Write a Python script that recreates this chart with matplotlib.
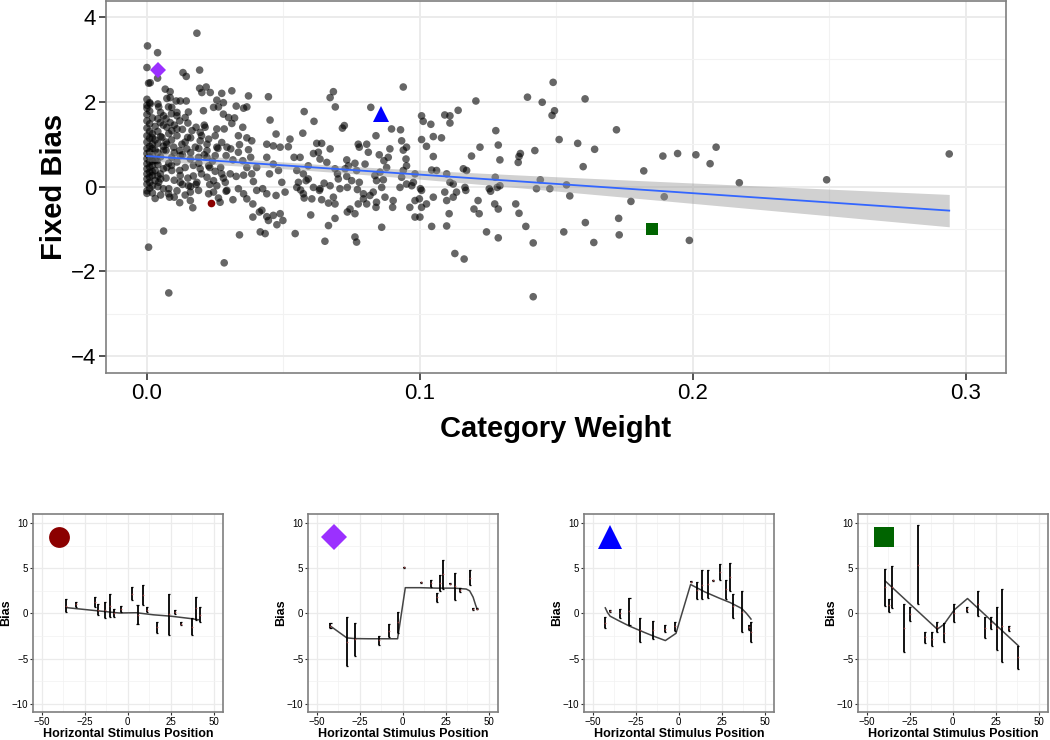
import matplotlib
matplotlib.use("Agg")
import matplotlib.pyplot as plt
import numpy as np

plt.rcParams['font.family'] = ['Liberation Sans', 'DejaVu Sans']

# ---- main scatter: (category weight, fixed bias) ----
pts_column0 = [
    (0.000, 1.85), (0.001, 1.78), (0.000, 1.70), (0.002, 1.62), (0.000, 1.55), (0.001, 1.48),
    (0.003, 1.42), (0.000, 1.38), (0.001, 1.30), (0.002, 1.25), (0.000, 1.20), (0.001, 1.14),
    (0.003, 1.10), (0.000, 1.05), (0.002, 1.00), (0.001, 0.95), (0.000, 0.90), (0.003, 0.86),
    (0.001, 0.82), (0.000, 0.78), (0.002, 0.74), (0.001, 0.70), (0.000, 0.66), (0.003, 0.62),
    (0.001, 0.58), (0.000, 0.54), (0.002, 0.50), (0.001, 0.46), (0.000, 0.42), (0.003, 0.38),
    (0.001, 0.34), (0.000, 0.30), (0.002, 0.26), (0.001, 0.22), (0.000, 0.18), (0.003, 0.14),
    (0.001, 0.10), (0.000, 0.06), (0.002, 0.02), (0.001, -0.04), (0.000, -0.10), (0.002, -0.15),
    (0.004, 1.95), (0.004, 1.60), (0.004, 1.30), (0.004, 1.02), (0.004, 0.80), (0.004, 0.52),
    (0.004, 0.25), (0.004, 0.00), (0.005, 1.75), (0.006, 1.45), (0.005, 1.18), (0.006, 0.95),
    (0.005, 0.70), (0.006, 0.42), (0.005, 0.18), (0.006, -0.05), (0.005, -0.20), (0.001, 1.98),
    (0.000, 1.92), (0.002, 0.90), (0.002, 0.60), (0.002, 0.35), (0.002, 1.15), (0.000, -0.16),
]

pts_dense = [
    (0.007, 1.60), (0.008, 1.25), (0.007, 0.85), (0.008, 0.55), (0.007, 0.20), (0.008, -0.05),
    (0.009, 1.72), (0.010, 1.45), (0.009, 1.10), (0.010, 0.80), (0.009, 0.50), (0.010, 0.15),
    (0.011, -0.10), (0.012, 1.55), (0.011, 1.20), (0.012, 0.85), (0.011, 0.58), (0.012, 0.38),
    (0.013, 0.05), (0.013, 1.35), (0.014, 1.05), (0.013, 0.75), (0.014, 0.45), (0.015, 0.20),
    (0.015, 1.50), (0.016, 1.15), (0.016, 0.80), (0.017, 0.50), (0.017, 0.25), (0.018, 1.40),
    (0.018, 0.05), (0.019, 0.90), (0.019, 0.55), (0.020, 1.20), (0.020, 0.30), (0.021, 0.75),
    (0.022, 1.00), (0.023, 0.45), (0.010, -0.25), (0.014, -0.20), (0.003, -0.28), (0.012, -0.38),
    (0.007, 1.05), (0.016, 0.00), (0.021, 1.45), (0.024, 0.60), (0.026, 0.90), (0.027, 0.45),
    (0.023, 0.05), (0.028, 0.20),
]

pts_left = [
    (0.0183, 3.62), (0.0002, 3.32), (0.0039, 3.16), (0.0000, 2.81), (0.0193, 2.75), (0.0132, 2.69),
    (0.0144, 2.60), (0.0039, 2.56), (0.0006, 2.44), (0.0012, 2.45), (0.0067, 2.30), (0.0085, 2.24),
    (0.0193, 2.32), (0.0217, 2.35), (0.0201, 2.22), (0.0232, 2.22), (0.0274, 2.20), (0.0311, 2.26),
    (0.0000, 2.06), (0.0012, 1.95), (0.0085, 2.10), (0.0122, 2.02), (0.0144, 2.02), (0.0073, 2.08),
    (0.0107, 2.02), (0.0043, 1.88), (0.0079, 1.88), (0.0091, 1.87), (0.0110, 1.75), (0.0152, 1.76),
    (0.0140, 1.63), (0.0110, 1.67), (0.0085, 1.51), (0.0049, 1.51), (0.0073, 1.40), (0.0110, 1.36),
    (0.0165, 1.32), (0.0213, 1.40), (0.0195, 1.28), (0.0256, 1.36), (0.0283, 1.36), (0.0250, 1.20),
    (0.0226, 1.12), (0.0195, 1.08), (0.0177, 0.93), (0.0146, 0.89), (0.0128, 1.00), (0.0098, 0.93),
    (0.0073, 1.00), (0.0061, 0.85), (0.0091, 0.69), (0.0122, 0.73), (0.0159, 0.65), (0.0189, 0.69),
    (0.0220, 0.69), (0.0250, 0.73), (0.0256, 0.93), (0.0293, 0.93), (0.0274, 1.04), (0.0220, 0.85),
    (0.0195, 0.42), (0.0226, 0.49), (0.0250, 0.36), (0.0244, 0.14), (0.0256, 0.02), (0.0287, 0.10),
    (0.0305, 0.30), (0.0274, 0.30), (0.0220, 0.22), (0.0183, 0.10), (0.0152, 0.02), (0.0159, -0.13),
    (0.0189, -0.09), (0.0226, -0.17), (0.0244, -0.13), (0.0268, -0.37), (0.0293, -0.09), (0.0159, -0.33),
    (0.0168, -0.50), (0.0262, -0.27), (0.0122, 0.26), (0.0091, 0.38), (0.0073, 0.45), (0.0049, 0.30),
    (0.0043, 0.10), (0.0079, -0.17), (0.0083, -0.25), (0.0122, 0.10), (0.0037, 0.61), (0.0055, 1.16),
    (0.0091, 1.32), (0.0061, 1.67), (0.0149, 1.16), (0.0207, 1.79), (0.0244, 1.87), (0.0262, 1.88),
    (0.0280, 1.98), (0.0280, 1.71), (0.0311, 1.49), (0.0299, 1.63), (0.0256, 2.04),
]

pts_mid1 = [
    (0.0372, 2.14), (0.0445, 2.12), (0.0354, 1.85), (0.0366, 1.88), (0.0327, 1.90), (0.0321, 1.62),
    (0.0351, 1.40), (0.0335, 1.20), (0.0366, 1.15), (0.0384, 1.08), (0.0339, 0.99), (0.0335, 0.81),
    (0.0372, 0.87), (0.0380, 0.69), (0.0307, 0.89), (0.0290, 0.73), (0.0315, 0.63), (0.0351, 0.61),
    (0.0366, 0.45), (0.0402, 0.45), (0.0384, 0.30), (0.0354, 0.27), (0.0390, 0.12), (0.0424, -0.05),
    (0.0335, -0.05), (0.0354, -0.17), (0.0366, -0.29), (0.0388, -0.41), (0.0315, -0.31), (0.0290, -0.11),
    (0.0327, 0.24), (0.0439, 1.00), (0.0463, 0.96), (0.0488, 0.93), (0.0473, 1.24), (0.0524, 1.12),
    (0.0518, 0.94), (0.0451, 1.57), (0.0439, 0.69), (0.0463, 0.53), (0.0482, 0.38), (0.0449, 0.30),
    (0.0494, 0.10), (0.0506, -0.13), (0.0473, -0.21), (0.0439, -0.17), (0.0402, -0.09), (0.0421, -0.56),
    (0.0439, -0.71), (0.0463, -0.68), (0.0488, -0.64), (0.0498, -0.80), (0.0476, -0.90), (0.0445, -0.80),
    (0.0388, -0.72), (0.0412, -0.60), (0.0415, -1.07), (0.0433, -1.11), (0.0339, -1.14), (0.0283, -1.80),
    (0.0080, -2.51), (0.0061, -1.05), (0.0006, -1.43),
]

pts_mid2 = [
    (0.0576, 1.77), (0.0612, 1.54), (0.0571, 1.26), (0.0622, 1.02), (0.0640, 1.02), (0.0610, 0.78),
    (0.0628, 0.81), (0.0634, 0.65), (0.0671, 0.89), (0.0659, 0.57), (0.0591, 0.49), (0.0561, 0.69),
    (0.0539, 0.69), (0.0549, 0.38), (0.0573, 0.30), (0.0591, 0.18), (0.0583, 0.14), (0.0555, 0.10),
    (0.0549, -0.02), (0.0563, -0.08), (0.0573, -0.17), (0.0610, -0.02), (0.0634, -0.05), (0.0649, 0.08),
    (0.0671, 0.02), (0.0701, 0.18), (0.0732, 0.24), (0.0738, 0.49), (0.0732, 0.63), (0.0726, 0.42),
    (0.0762, 0.55), (0.0774, 1.00), (0.0778, 0.93), (0.0805, 1.00), (0.0811, 0.81), (0.0799, 0.53),
    (0.0768, 0.38), (0.0750, 0.14), (0.0734, -0.02), (0.0707, -0.05), (0.0683, -0.25), (0.0689, -0.41),
    (0.0665, -0.39), (0.0640, -0.31), (0.0632, -0.09), (0.0604, -0.29), (0.0576, -0.27), (0.0543, -1.11),
    (0.0600, -0.67), (0.0665, -0.92), (0.0689, -0.75), (0.0734, -0.60), (0.0744, -0.53), (0.0762, -0.64),
    (0.0774, -0.41), (0.0793, -0.29), (0.0762, -1.19), (0.0768, -1.31), (0.0652, -1.29), (0.0698, 0.30),
    (0.0689, 0.42), (0.0716, 1.38), (0.0723, 1.44), (0.0820, 1.87), (0.0839, 1.20), (0.0683, 2.24),
    (0.0671, 2.10), (0.0690, 1.88),
]

pts_mid3 = [
    (0.0851, 0.75), (0.0868, 0.61), (0.0884, 0.69), (0.0890, 0.89), (0.0878, 0.45), (0.0854, 0.34),
    (0.0835, 0.26), (0.0841, 0.14), (0.0866, 0.16), (0.0860, -0.02), (0.0829, -0.13), (0.0817, -0.21),
    (0.0841, -0.37), (0.0872, -0.25), (0.0902, -0.33), (0.0900, -0.49), (0.0927, -0.02), (0.0951, 0.06),
    (0.0933, 0.22), (0.0939, 0.38), (0.0951, 0.49), (0.0949, 0.65), (0.0939, 0.86), (0.0933, 1.08),
    (0.0896, 1.36), (0.0929, 1.34), (0.0951, 0.93), (0.0970, 0.02), (0.0982, -0.33), (0.0963, -0.49),
    (0.0982, -0.72), (0.1000, -0.72), (0.1006, -0.49), (0.0998, -0.29), (0.1002, -0.05), (0.0982, 0.30),
    (0.0976, 0.10), (0.0860, -0.96), (0.0839, -0.49), (0.0805, -0.41), (0.0793, -0.17), (0.0771, -0.07),
    (0.0778, 0.10), (0.0939, 2.35),
]

pts_right1 = [
    (0.1006, 1.67), (0.1012, 1.54), (0.1040, 1.47), (0.1049, 1.18), (0.1079, 1.15), (0.1006, 1.11),
    (0.1024, 0.95), (0.1049, 0.71), (0.1043, 0.39), (0.1061, 0.38), (0.1098, 0.30), (0.1110, 0.10),
    (0.1122, 0.06), (0.1134, -0.13), (0.1122, -0.25), (0.1091, -0.13), (0.1049, -0.25), (0.1024, -0.41),
    (0.1006, -0.09), (0.1098, -0.33), (0.1107, -0.64), (0.1098, -0.93), (0.1043, -0.94), (0.1159, 0.42),
    (0.1171, 0.38), (0.1165, -0.02), (0.1168, -0.09), (0.1189, 0.72), (0.1220, 0.93), (0.1213, -0.33),
    (0.1198, -0.53), (0.1217, -0.64), (0.1128, -1.58), (0.1162, -1.71), (0.1244, -1.07), (0.1254, -0.05),
    (0.1259, -0.11), (0.1278, 1.32), (0.1287, 0.98), (0.1293, 0.63), (0.1205, 2.02), (0.1140, 1.80),
    (0.1091, 1.69), (0.1110, 1.67), (0.1110, 1.50),
]

pts_right2 = [
    (0.1276, 0.22), (0.1293, 0.02), (0.1283, -0.02), (0.1274, -0.41), (0.1287, -0.53), (0.1287, -1.21),
    (0.1351, -0.41), (0.1363, -0.63), (0.1388, -0.94), (0.1363, 0.71), (0.1360, 0.57), (0.1368, 0.78),
    (0.1421, 0.85), (0.1427, -0.05), (0.1415, -1.33), (0.1415, -2.60), (0.1394, 2.11), (0.1448, 1.99),
    (0.1484, 1.68), (0.1493, 1.79), (0.1488, 2.46), (0.1441, 0.16),
]

pts_far = [
    (0.1605, 2.07), (0.1720, 1.34), (0.1510, 1.11), (0.1578, 1.02), (0.1640, 0.88), (0.1598, 0.47),
    (0.1476, -0.05), (0.1537, 0.04), (0.1549, -0.22), (0.1773, -0.35), (0.1895, -0.24), (0.1606, -0.85),
    (0.1728, -0.75), (0.1527, -1.07), (0.1730, -1.14), (0.1637, -1.32), (0.1987, -1.27), (0.1820, 0.37),
    (0.1890, 0.72), (0.1944, 0.78), (0.2011, 0.75), (0.2063, 0.54), (0.2085, 0.93), (0.2170, 0.09),
    (0.2490, 0.16), (0.2939, 0.77),
]

# linear fit (intercept, slope)
fit_intercept = 0.72
fit_slope = -4.38

# highlighted participants (also shown in the small panels)
hl_weight = [0.0234, 0.0039, 0.0856, 0.1851]
hl_bias = [-0.38, 2.75, 1.71, -0.99]
hl_color = ['#8B0000', '#9B30FF', '#0000FF', '#006400']
hl_marker = ['o', 'D', '^', 's']
hl_main_size = [5.5, 8, 11, 9]

# ---- small panels: stimulus position, error bar low / high, fitted curve ----
p1_pos = [-36.0, -30.4, -18.9, -17.4, -13.1, -10.6, -7.9, -4.2, 2.4, 5.7, 8.8, 11.2, 17.0, 24.2, 27.7, 31.0, 37.2, 39.7, 42.2]
p1_lo = [0.15, 0.7, 0.7, -0.2, -0.55, -0.4, -0.4, 0.15, 1.5, -1.2, 0.9, 0.15, -2.2, -2.4, -0.1, -1.3, -2.4, -0.7, -0.95]
p1_hi = [1.6, 1.3, 1.8, 1.0, 1.3, 2.1, 0.5, 0.8, 2.9, 0.9, 3.2, 0.7, -0.9, 2.2, 0.4, -1.0, -0.55, 1.8, 0.7]
p1_fit_x = [-36, -18, -5, 5, 15, 25, 36, 41.3]
p1_fit_y = [0.65, 0.3, 0.05, 0.08, -0.15, -0.3, -0.55, -0.7]

p2_pos = [-42.1, -32.6, -27.7, -13.6, -8.1, -2.5, 0.8, 10.7, 16.3, 19.8, 21.7, 23.6, 27.7, 30.6, 33.3, 39.0, 41.1, 43.4]
p2_lo = [-1.65, -5.8, -4.7, -3.5, -2.65, -2.2, 5.05, 3.4, 2.9, 1.3, 2.5, 2.75, 3.25, 1.5, 2.35, 3.1, 0.35, 0.45]
p2_hi = [-1.03, -0.44, -1.03, -2.46, -1.2, 0.2, 5.15, 3.5, 3.75, 2.3, 4.3, 5.95, 3.35, 4.5, 2.85, 4.85, 0.65, 0.55]
p2_fit_x = [-42.1, -32.6, -28, -20, -10, -3, 1.5, 10, 20, 30, 37, 39, 41, 42.5, 43.4]
p2_fit_y = [-1.4, -2.7, -2.78, -2.8, -2.8, -2.8, 2.85, 2.85, 2.8, 2.8, 2.7, 2.5, 1.8, 0.9, 0.45]

p3_pos = [-42.8, -40.3, -34.1, -28.7, -22.5, -14.8, -7.8, -2.0, 6.9, 10.7, 13.6, 17.3, 20.2, 23.9, 27.4, 29.9, 31.8, 36.7, 40.9, 42.1]
p3_lo = [-1.6, 0.2, -0.45, -1.3, -3.2, -2.8, -2.1, -1.9, 3.45, 1.6, 1.6, 1.7, 3.6, 3.65, 1.65, 2.5, -0.55, -2.1, -1.8, -3.2]
p3_hi = [-0.44, 0.4, 0.5, 1.75, -0.55, -0.8, -1.3, -0.9, 3.55, 3.5, 4.8, 4.8, 3.7, 5.5, 3.75, 5.6, 2.1, 2.5, -1.3, -1.0]
p3_fit_x = [-42.8, -41.5, -40, -35, -28.7, -20, -14.8, -7.8, -1.6, 6.9, 15, 23.5, 30, 36.7, 39.5, 41, 42.1]
p3_fit_y = [0.62, 0.1, -0.3, -0.8, -1.4, -2.1, -2.5, -3.0, -2.2, 3.2, 2.4, 1.7, 1.2, 0.55, 0.0, -0.35, -0.62]

p4_pos = [-39.4, -37.1, -35.5, -28.4, -25.1, -20.5, -16.3, -12.0, -9.0, -5.1, 0.9, 8.4, 14.5, 18.8, 22.3, 25.9, 28.8, 32.7, 38.1]
p4_lo = [0.8, 0.2, 0.55, -4.3, -0.85, 1.0, -3.3, -3.6, -2.1, -3.2, -1.0, 0.18, -0.3, -2.7, -1.76, -4.0, -5.4, -1.9, -6.1]
p4_hi = [4.96, 1.65, 5.26, 1.0, 0.66, 9.75, -2.0, -2.0, -0.9, -1.1, 1.0, 0.74, 2.5, -0.44, -0.44, 0.74, 2.65, -1.4, -3.57]
p4_fit_x = [-39.4, -9.0, -5.1, 0.9, 8.6, 38.1]
p4_fit_y = [3.6, -1.75, -1.2, 0.4, 1.65, -3.55]

panels = [
    (p1_pos, p1_lo, p1_hi, p1_fit_x, p1_fit_y),
    (p2_pos, p2_lo, p2_hi, p2_fit_x, p2_fit_y),
    (p3_pos, p3_lo, p3_hi, p3_fit_x, p3_fit_y),
    (p4_pos, p4_lo, p4_hi, p4_fit_x, p4_fit_y),
]
panel_marker_pos = (-40.2, 8.5)
panel_marker_size = [15, 13, 17, 14]


def gg_style(ax, tick_size, grid_major, grid_minor):
    ax.set_facecolor('white')
    for s in ax.spines.values():
        s.set_color('#7F7F7F')
        s.set_linewidth(1.2)
    ax.grid(True, which='major', color='#EBEBEB', linewidth=grid_major, zorder=0)
    ax.grid(True, which='minor', color='#F2F2F2', linewidth=grid_minor, zorder=0)
    ax.set_axisbelow(True)
    ax.tick_params(which='major', direction='out', color='#333333', labelsize=tick_size, labelcolor='black')
    ax.tick_params(which='minor', length=0)


all_pts = pts_column0 + pts_dense + pts_left + pts_mid1 + pts_mid2 + pts_mid3 + pts_right1 + pts_right2 + pts_far
weight = np.array([p[0] for p in all_pts])
bias = np.array([p[1] for p in all_pts])

fig = plt.figure(figsize=(10.5, 7.4), dpi=100)

ax = fig.add_axes([106 / 1050, 1 - 373 / 740, 900 / 1050, 372 / 740])
gg_style(ax, 16, 1.4, 0.8)
ax.tick_params(which='major', length=5, width=1.2, pad=2)

ax.scatter(weight, bias, s=30, color='black', alpha=0.6, edgecolors='none', zorder=2)

# confidence band around the fit line
xx = np.linspace(weight.min(), weight.max(), 100)
yy = fit_intercept + fit_slope * xx
resid = bias - (fit_intercept + fit_slope * weight)
n = len(weight)
s_err = np.sqrt(np.sum(resid ** 2) / (n - 2))
se = s_err * np.sqrt(1 / n + (xx - weight.mean()) ** 2 / np.sum((weight - weight.mean()) ** 2))
ax.fill_between(xx, yy - 1.96 * se, yy + 1.96 * se, color='#999999', alpha=0.45, linewidth=0, zorder=3)
ax.plot(xx, yy, color='#3366FF', linewidth=1.3, zorder=4)

for w, b, c, m, ms in zip(hl_weight, hl_bias, hl_color, hl_marker, hl_main_size):
    ax.plot(w, b, marker=m, color=c, markersize=ms, markeredgewidth=0, linestyle='none', zorder=5)

ax.set_xlim(-0.015, 0.3147)
ax.set_ylim(-4.4, 4.38)
ax.set_xticks([0, 0.1, 0.2, 0.3])
ax.set_xticklabels(['0.0', '0.1', '0.2', '0.3'])
ax.set_xticks([0.05, 0.15, 0.25], minor=True)
ax.set_yticks([-4, -2, 0, 2, 4])
ax.set_yticklabels(['\u22124', '\u22122', '0', '2', '4'])
ax.set_yticks([-3, -1, 1, 3], minor=True)
ax.set_xlabel('Category Weight', fontsize=21, fontweight='bold', labelpad=8)
ax.set_ylabel('Fixed Bias', fontsize=21, fontweight='bold', labelpad=2)

panel_left = [33, 308, 584, 858]
for i, (pos, lo, hi, fx, fy) in enumerate(panels):
    pa = fig.add_axes([panel_left[i] / 1050, 1 - 712 / 740, 190 / 1050, 198 / 740])
    gg_style(pa, 7, 0.9, 0.5)
    pa.tick_params(which='major', length=2.5, width=0.8, pad=1)
    pos = np.array(pos)
    lo = np.array(lo)
    hi = np.array(hi)
    pa.plot(fx, fy, color='#444444', linewidth=1.1, zorder=3)
    pa.vlines(pos, lo, hi, color='black', linewidth=1.3, zorder=4)
    pa.hlines(lo, pos - 0.6, pos + 0.6, color='black', linewidth=0.9, zorder=4)
    pa.hlines(hi, pos - 0.6, pos + 0.6, color='black', linewidth=0.9, zorder=4)
    pa.plot(pos, (lo + hi) / 2, 'o', color='#8B3A3A', markersize=1.2, markeredgewidth=0, zorder=5)
    pa.plot(panel_marker_pos[0], panel_marker_pos[1], marker=hl_marker[i], color=hl_color[i],
            markersize=panel_marker_size[i], markeredgewidth=0, linestyle='none', zorder=6)
    pa.set_xlim(-55.2, 55.5)
    pa.set_ylim(-10.9, 11)
    pa.set_xticks([-50, -25, 0, 25, 50])
    pa.set_xticklabels(['\u221250', '\u221225', '0', '25', '50'])
    pa.set_xticks([-37.5, -12.5, 12.5, 37.5], minor=True)
    pa.set_yticks([-10, -5, 0, 5, 10])
    pa.set_yticklabels(['\u221210', '\u22125', '0', '5', '10'])
    pa.set_yticks([-7.5, -2.5, 2.5, 7.5], minor=True)
    pa.set_xlabel('Horizontal Stimulus Position', fontsize=9, fontweight='bold', labelpad=1)
    pa.set_ylabel('Bias', fontsize=9, fontweight='bold', labelpad=0)

fig.savefig('out.png', dpi=100)
